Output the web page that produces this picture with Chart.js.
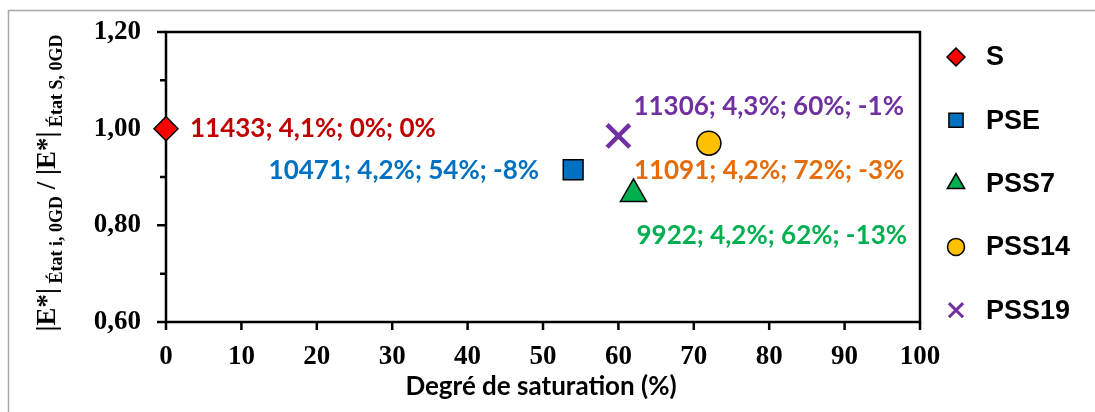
<!DOCTYPE html>
<html>
<head>
<meta charset="utf-8">
<script src="https://cdn.jsdelivr.net/npm/chart.js@4/dist/chart.umd.min.js"></script>
<style>
  html, body { margin: 0; padding: 0; background: #fff; }
  #wrap { width: 1095px; height: 412px; position: relative; }
</style>
</head>
<body>
<div id="wrap"><canvas id="chart" width="1095" height="412"></canvas></div>
<script>
// series names and values
const seriesNames = ['S', 'PSE', 'PSS7', 'PSS14', 'PSS19'];
const saturation = [0, 54, 62, 72, 60];           // Degré de saturation (%)
const ratio = [1.00, 0.915, 0.865, 0.97, 0.985];  // |E*| État i / |E*| État S
const pointLabels = [
    '11433; 4,1%; 0%; 0%',
    '10471; 4,2%; 54%; -8%',
    '9922; 4,2%; 62%; -13%',
    '11091; 4,2%; 72%; -3%',
    '11306; 4,3%; 60%; -1%'
];
const xTicks = [0, 10, 20, 30, 40, 50, 60, 70, 80, 90, 100];
const yTicks = [0.6, 0.7, 0.8, 0.9, 1.0, 1.1, 1.2];

// styles
const fills = ['#FF0000', '#0070C0', '#00B050', '#FFC000', '#7030A0'];
const labelColors = ['#C00000', '#0070C0', '#00B050', '#E46C0A', '#7030A0'];
const shapes = ['rectRot', 'rect', 'triangle', 'circle', 'crossRot'];
const radii = [12, 14, 15, 12, 16];
// label offset from its point, and alignment
const labelOffsets = [[24, 0, 'left'], [-34, 1, 'right'], [3, 42, 'left'], [-75, 27, 'left'], [15, -29, 'left']];

const TICK_FONT = 'bold 27px "Liberation Serif", "Times New Roman", serif';
const LABEL_FONT = 'bold 26px Lato, "Open Sans", sans-serif';

const boxPlugin = {
    id: 'box',
    beforeDraw(chart) {
        const ctx = chart.ctx;
        ctx.save();
        ctx.fillStyle = '#fff';
        ctx.fillRect(0, 0, chart.width, chart.height);
        ctx.strokeStyle = '#A6A6A6';
        ctx.lineWidth = 1.5;
        ctx.strokeRect(8.5, 10.5, chart.width + 10, chart.height + 10);
        ctx.restore();
    },
    beforeDatasetsDraw(chart) {
        const ctx = chart.ctx;
        const a = chart.chartArea;
        const xs = chart.scales.x, ys = chart.scales.y;
        ctx.save();
        ctx.strokeStyle = '#000';
        ctx.lineWidth = 2.5;
        ctx.strokeRect(a.left, a.top, a.right - a.left, a.bottom - a.top);
        ctx.beginPath();
        xTicks.forEach(v => {
            const px = xs.getPixelForValue(v);
            ctx.moveTo(px, a.bottom);
            ctx.lineTo(px, a.bottom + 8);
        });
        yTicks.forEach((v, i) => {
            const py = ys.getPixelForValue(v);
            ctx.moveTo(a.left - (i % 2 === 0 ? 9 : 6), py);
            ctx.lineTo(a.left, py);
        });
        ctx.stroke();
        ctx.restore();
    },
    afterDraw(chart) {
        const ctx = chart.ctx;
        const a = chart.chartArea;
        const xs = chart.scales.x, ys = chart.scales.y;
        ctx.save();
        // tick labels
        ctx.fillStyle = '#000';
        ctx.font = TICK_FONT;
        ctx.textBaseline = 'middle';
        ctx.textAlign = 'center';
        xTicks.forEach(v => ctx.fillText(String(v), xs.getPixelForValue(v), a.bottom + 35));
        ctx.textAlign = 'right';
        yTicks.forEach((v, i) => {
            if (i % 2 === 0) ctx.fillText(v.toFixed(2).replace('.', ','), a.left - 25, ys.getPixelForValue(v));
        });

        // x title
        ctx.textAlign = 'center';
        ctx.font = 'bold 26px Lato, "Open Sans", sans-serif';
        ctx.fillText('Degré de saturation (%)', (a.left + a.right) / 2 - 2, 387);

        // y title with subscripts
        const parts = [
            ['|E*|', 'bold 27px "Liberation Serif", serif', 0],
            [' État i, 0GD', 'bold 18px "Liberation Serif", serif', 7],
            [' / |E*|', 'bold 27px "Liberation Serif", serif', 0],
            [' État S, 0GD', 'bold 18px "Liberation Serif", serif', 7]
        ];
        let total = 0;
        parts.forEach(p => { ctx.font = p[1]; total += ctx.measureText(p[0]).width; });
        ctx.translate(55, 183);
        ctx.rotate(-Math.PI / 2);
        ctx.textAlign = 'left';
        ctx.textBaseline = 'alphabetic';
        let cx = -total / 2;
        parts.forEach(p => {
            ctx.font = p[1];
            ctx.fillText(p[0], cx, p[2]);
            cx += ctx.measureText(p[0]).width;
        });
        ctx.restore();

        // point labels
        ctx.save();
        ctx.font = LABEL_FONT;
        ctx.textBaseline = 'middle';
        chart.data.datasets.forEach((ds, i) => {
            const el = chart.getDatasetMeta(i).data[0];
            const off = labelOffsets[i];
            ctx.fillStyle = labelColors[i];
            ctx.textAlign = off[2];
            ctx.fillText(pointLabels[i], el.x + off[0], el.y + off[1]);
        });
        ctx.restore();

        // legend
        ctx.save();
        const drawPoint = Chart.helpers && Chart.helpers.drawPoint;
        chart.data.datasets.forEach((ds, i) => {
            const ly = 57 + i * 63.3;
            ctx.fillStyle = ds.backgroundColor;
            ctx.strokeStyle = ds.borderColor;
            ctx.lineWidth = i === 4 ? 3 : 1.5;
            if (drawPoint) {
                drawPoint(ctx, { pointStyle: shapes[i], radius: [9, 10, 10, 8.5, 10][i], rotation: 0, borderWidth: ctx.lineWidth }, 956, ly);
            }
            ctx.fillStyle = '#000';
            ctx.font = 'bold 27px "Liberation Sans", Arial, sans-serif';
            ctx.textAlign = 'left';
            ctx.textBaseline = 'middle';
            ctx.fillText(seriesNames[i], 986, ly + 1);
        });
        ctx.restore();
    }
};

new Chart(document.getElementById('chart'), {
    type: 'scatter',
    data: {
        datasets: seriesNames.map((name, i) => ({
            label: name,
            data: [{ x: saturation[i], y: ratio[i] }],
            pointStyle: shapes[i],
            pointRadius: radii[i],
            pointHoverRadius: radii[i],
            backgroundColor: fills[i],
            borderColor: i === 4 ? fills[i] : '#000',
            borderWidth: i === 4 ? 4.5 : 1.5,
            clip: false
        }))
    },
    options: {
        responsive: false,
        animation: false,
        events: [],
        layout: { padding: { top: 32, right: 175, left: 0, bottom: 0 } },
        plugins: { legend: { display: false }, tooltip: { enabled: false } },
        scales: {
            x: {
                type: 'linear', min: 0, max: 100,
                grid: { display: false }, border: { display: false },
                ticks: { display: false },
                afterFit: s => { s.height = 90; }
            },
            y: {
                type: 'linear', min: 0.6, max: 1.2,
                grid: { display: false }, border: { display: false },
                ticks: { display: false },
                afterFit: s => { s.width = 166; }
            }
        }
    },
    plugins: [boxPlugin]
});
</script>
</body>
</html>
